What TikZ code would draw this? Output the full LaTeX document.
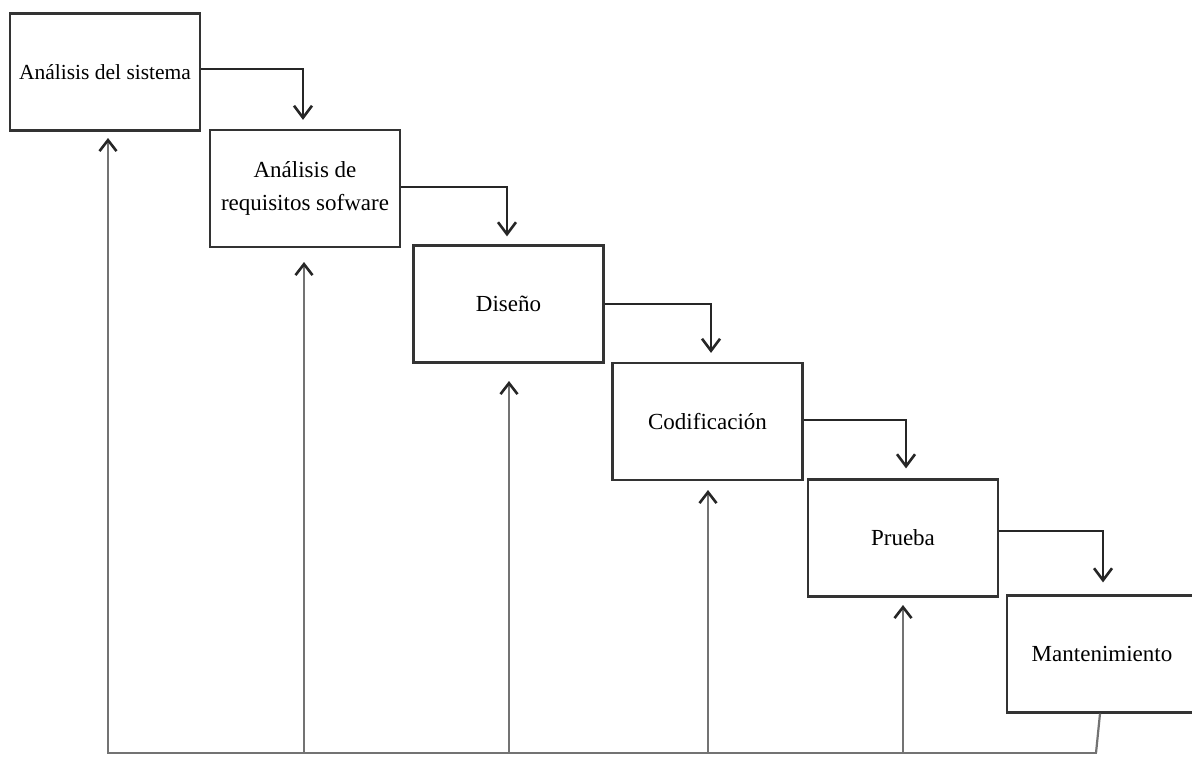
\documentclass[tikz,border=0pt]{standalone}
\usepackage{fontspec}
\setmainfont{Liberation Serif}
\usetikzlibrary{arrows.meta}
\begin{document}
\begin{tikzpicture}[x=1pt,y=-1pt,
  stage/.style={draw=black!80, line width=2.2pt, minimum width=190pt, minimum height=117pt,
    inner sep=0pt, align=center, font=\fontsize{23}{33}\selectfont},
  flow/.style={draw=black!85, line width=2.2pt, -{Straight Barb[length=12pt,width=18pt,line width=2.6pt]}},
  back/.style={draw=black!55, line width=2.2pt, -{Straight Barb[length=11pt,width=17pt,line width=2.6pt,color=black!85]}},
  base/.style={draw=black!55, line width=2.2pt}]
\useasboundingbox (0,0) rectangle (1192,756);
\clip (0,0) rectangle (1192,756);

% the six phases, stepping down to the right
\node[stage, font=\fontsize{21.5}{30}\selectfont] (b1) at (105,72) {Análisis del sistema};
\node[stage] (b2) at (305,188.5) {Análisis de\\requisitos sofware};
\node[stage] (b3) at (508.5,304) {Diseño};
\node[stage] (b4) at (707.5,421.5) {Codificación};
\node[stage] (b5) at (903,538) {Prueba};
\node[stage] (b6) at (1102,654) {Mantenimiento};

% forward flow between consecutive phases
\draw[flow] (b1.east |- 0,69) -| ([xshift=-2pt,yshift=9pt]b2.north);
\draw[flow] (b2.east |- 0,187) -| ([xshift=-1.5pt,yshift=8pt]b3.north);
\draw[flow] (b3.east |- 0,304) -| ([xshift=3.5pt,yshift=9pt]b4.north);
\draw[flow] (b4.east |- 0,420) -| ([xshift=3pt,yshift=10pt]b5.north);
\draw[flow] (b5.east |- 0,531) -| ([xshift=1pt,yshift=12pt]b6.north);

% feedback line along the bottom
\coordinate (m6) at (1096,753);
\coordinate (m1) at (108,753);
\coordinate (m2) at (304,753);
\coordinate (m3) at (509,753);
\coordinate (m4) at (708,753);
\coordinate (m5) at (903,753);
\draw[base] ([xshift=-2pt]b6.south) -- (m6);
\draw[base, line cap=rect] (m6) -- (m1);

% returns to each earlier phase
\draw[back] (m1) -- (m1 |- 0,138);
\draw[back] (m2) -- (m2 |- 0,262);
\draw[back] (m3) -- (m3 |- 0,381);
\draw[back] (m4) -- (m4 |- 0,490);
\draw[back] (m5) -- (m5 |- 0,605);
\end{tikzpicture}
\end{document}
